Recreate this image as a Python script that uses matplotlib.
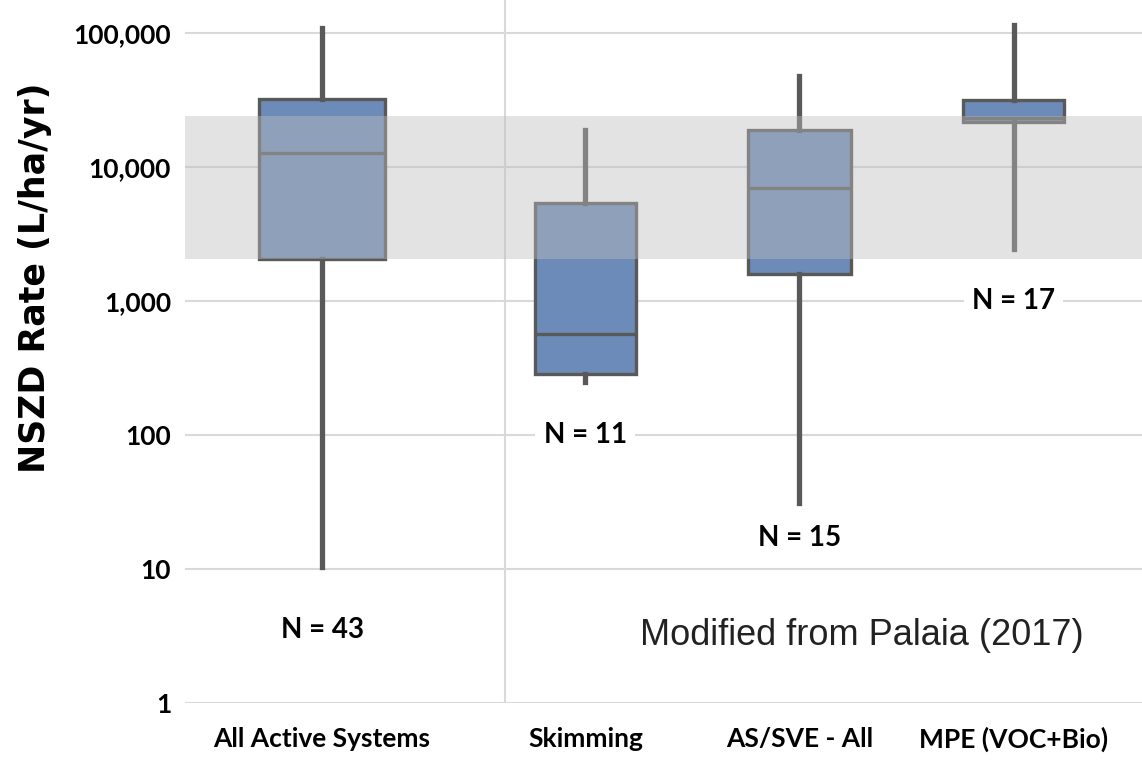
import matplotlib
matplotlib.use("Agg")
import matplotlib.pyplot as plt
from matplotlib.ticker import FixedLocator, NullLocator

# values (L/ha/yr)
categories = ["All Active Systems", "Skimming", "AS/SVE - All", "MPE (VOC+Bio)"]
whisker_low = [10.3, 250, 31, 2450]
q1 = [2050, 285, 1600, 21500]
median = [12600, 570, 7000, 23000]
q3 = [32000, 5400, 18900, 31500]
whisker_high = [108000, 18800, 48000, 115000]
n_labels = ["N = 43", "N = 11", "N = 15", "N = 17"]
n_label_y = [3.5, 100, 17, 1000]
band_low, band_high = 2050, 24000
yticks = [1, 10, 100, 1000, 10000, 100000]
ytick_labels = ["1", "10", "100", "1,000", "10,000", "100,000"]

positions = [0, 1.23, 2.23, 3.23]
widths = [0.59, 0.47, 0.48, 0.47]

fig = plt.figure(figsize=(11.42, 7.68), dpi=100)
ax = fig.add_axes([0.162, 0.0846, 0.838, 0.9154])

stats = []
for i in range(len(categories)):
    stats.append(dict(whislo=whisker_low[i], q1=q1[i], med=median[i],
                      q3=q3[i], whishi=whisker_high[i], fliers=[]))

dark = "#595959"
ax.bxp(stats, positions=positions, widths=widths, patch_artist=True,
       showcaps=False, showfliers=False,
       boxprops=dict(facecolor="#6d8bb8", edgecolor=dark, linewidth=2.4),
       whiskerprops=dict(color=dark, linewidth=3.8),
       medianprops=dict(color=dark, linewidth=2.4),
       zorder=2)

# grey reference band drawn on top, like the source
ax.axhspan(band_low, band_high, color="#bebebe", alpha=0.42, lw=0, zorder=3)

ax.set_yscale("log")
ax.set_ylim(1, 176000)
ax.set_xlim(-0.64, 3.83)

ax.yaxis.set_major_locator(FixedLocator(yticks))
ax.yaxis.set_minor_locator(NullLocator())
ax.set_yticks(yticks)
ax.set_yticklabels(ytick_labels, family=["Lato", "DejaVu Sans"],
                   fontweight="bold", fontsize=19)
ax.set_xticks(positions)
ax.set_xticklabels(categories, family=["Lato", "DejaVu Sans"],
                   fontweight="bold", fontsize=19)
ax.tick_params(axis="x", length=0, pad=17)
ax.tick_params(axis="y", length=0, pad=10)

ax.grid(axis="y", color="#d9d9d9", linewidth=1.5, zorder=0)
ax.axvline(0.855, color="#d9d9d9", linewidth=1.5, zorder=0)
for s in ax.spines.values():
    s.set_visible(False)

for x, y, t in zip(positions, n_label_y, n_labels):
    ax.text(x, y, t, ha="center", va="center", fontsize=20,
            fontweight="bold", family=["Lato", "DejaVu Sans"], zorder=5,
            bbox=dict(facecolor="white", edgecolor="none", pad=6))

ax.text(2.52, 3.2, "Modified from Palaia (2017)", ha="center", va="center",
        fontsize=26, family=["Liberation Sans", "DejaVu Sans"],
        color="#222222", zorder=5)

ax.set_ylabel("NSZD Rate (L/ha/yr)", fontsize=25, fontweight="bold",
              family=["DejaVu Sans"])
ax.yaxis.set_label_coords(-0.139, 0.605)

fig.savefig("out.png", dpi=100)
